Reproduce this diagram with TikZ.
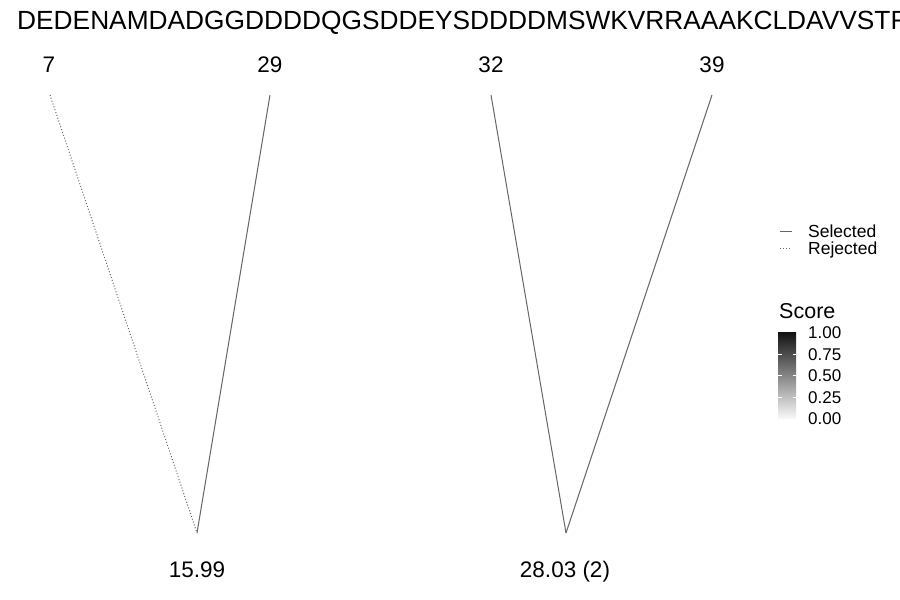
\documentclass[tikz,border=0pt]{standalone}
\usepackage{fontspec}
\setmainfont{Liberation Sans}
\newcommand{\pxfont}[1]{\fontsize{#1}{#1}\selectfont}
\tikzset{
  sel/.style={draw=black!60, line width=1pt},
  rej/.style={draw=black!60, line width=1pt, dotted},
  lab/.style={anchor=base, inner sep=0pt, font=\pxfont{22.5}},
  leg/.style={anchor=base west, inner sep=0pt, font=\pxfont{17.5}},
}
\begin{document}
\begin{tikzpicture}[x=1pt,y=-1pt]
\useasboundingbox (0,0) rectangle (900,600);
\clip (0,0) rectangle (900,600);

% sequence
\node[anchor=base west, inner sep=0pt, font=\pxfont{26.3}] (seq) at (17,29.5)
  {DEDENAMDADGGDDDDQGSDDEYSDDDDMSWKVRRAAAKCLDAVVSTR};

% positions
\node[lab] (p7) at (49,72) {7};
\node[lab] (p29) at (270,72) {29};
\node[lab] (p32) at (491,72) {32};
\node[lab] (p39) at (712,72) {39};
\coordinate (t7) at (50,95);
\coordinate (t29) at (270,95);
\coordinate (t32) at (491,95);
\coordinate (t39) at (712,95);
\coordinate (v1) at (197,533);
\coordinate (v2) at (566,533);

% links
\draw[rej] (t7) -- (v1);
\draw[sel] (t29) -- (v1);
\draw[sel] (t32) -- (v2);
\draw[sel] (t39) -- (v2);

% scores
\node[lab] (s1) at (197,577) {15.99};
\node[lab] (s2) at (565,577) {28.03 (2)};

% legend
\coordinate (a1) at (780,231);
\coordinate (a2) at (792,231);
\coordinate (b1) at (780,248);
\coordinate (b2) at (792,248);
\draw[sel] (a1) -- (a2);
\draw[rej] (b1) -- (b2);
\node[leg] (selected) at (808,237) {Selected};
\node[leg] (rejected) at (808,254) {Rejected};

% colour bar
\node[anchor=base west, inner sep=0pt, font=\pxfont{21.5}] (score) at (779,318) {Score};
\shade[top color=black!93, bottom color=black!3] (778,332) rectangle (796,418);
\foreach \yy in {354,375,397} {
  \draw[white, line width=0.5pt] (778,\yy) -- (781.5,\yy);
  \draw[white, line width=0.5pt] (792.5,\yy) -- (796,\yy);
}
\foreach \yy/\vv in {332/1.00,354/0.75,375/0.50,397/0.25,418/0.00}
  \node[anchor=west, inner sep=0pt, font=\pxfont{17}] at (808,\yy+1) {\vv};
\end{tikzpicture}
\end{document}
